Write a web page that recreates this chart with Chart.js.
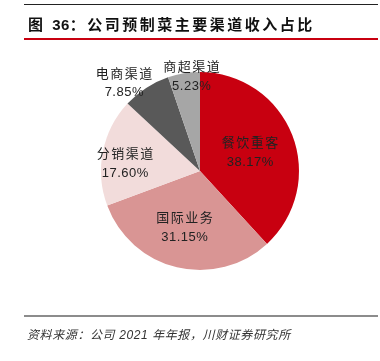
<!DOCTYPE html>
<html>
<head>
<meta charset="utf-8">
<script src="https://cdn.jsdelivr.net/npm/chart.js@4/dist/chart.umd.min.js"></script>
<style>
  html, body { margin: 0; padding: 0; background: #fff; }
  #wrap { position: relative; width: 380px; height: 361px; overflow: hidden; }
  #c { position: absolute; left: 0; top: 0; }
  .line { position: absolute; left: 24px; width: 354px; }
  #title { position: absolute; left: 28px; top: 13px; font: bold 15px "Liberation Sans", "Noto Sans CJK SC", sans-serif; letter-spacing: 2.5px; color: #111; white-space: nowrap; }
  #title .num { letter-spacing: 0.5px; }
  #foot { position: absolute; left: 27px; top: 325px; font: italic 12px "Liberation Sans", "Noto Sans CJK SC", sans-serif; letter-spacing: 0.6px; color: #333; white-space: nowrap; }
</style>
</head>
<body>
<div id="wrap">
  <canvas id="c" width="380" height="361"></canvas>
  <div class="line" style="top:4px;height:1px;background:#222;"></div>
  <div id="title">图 <span class="num">36</span>：公司预制菜主要渠道收入占比</div>
  <div class="line" style="top:38px;height:1.5px;background:#C80010;"></div>
  <div class="line" style="top:315px;height:2px;background:#8c8c8c;"></div>
  <div id="foot">资料来源：公司 2021 年年报，川财证券研究所</div>
</div>
<script>
const categories = ['餐饮重客', '国际业务', '分销渠道', '电商渠道', '商超渠道'];
const shares = [38.17, 31.15, 17.60, 7.85, 5.23];
const colors = ['#C80010', '#D99594', '#F2DCDB', '#595959', '#A6A6A6'];
// label placement: radius factor and angle shift (degrees) relative to slice middle
const labelRadius = [0.54, 0.587, 0.762, 1.175, 0.963];
const labelShift = [0.5, 2, -5.1, -7.8, 4.3];

const labelPlugin = {
  id: 'sliceLabels',
  afterDatasetsDraw(chart) {
    const ctx = chart.ctx;
    const meta = chart.getDatasetMeta(0);
    meta.data.forEach((arc, i) => {
      const p = arc.getProps(['x', 'y', 'startAngle', 'endAngle', 'outerRadius'], true);
      const mid = (p.startAngle + p.endAngle) / 2 + labelShift[i] * Math.PI / 180;
      const r = p.outerRadius * labelRadius[i];
      const cx = p.x + Math.cos(mid) * r;
      const cy = p.y + Math.sin(mid) * r;
      ctx.save();
      ctx.fillStyle = '#222';
      ctx.textAlign = 'center';
      ctx.textBaseline = 'middle';
      ctx.font = '13px "Noto Sans CJK SC", sans-serif';
      ctx.letterSpacing = '1.5px';
      ctx.fillText(categories[i], cx + 0.75, cy - 9.5);
      ctx.font = '13px "Liberation Sans", sans-serif';
      ctx.letterSpacing = '0.5px';
      ctx.fillText(shares[i].toFixed(2) + '%', cx + 0.25, cy + 10);
      ctx.restore();
    });
  }
};

new Chart(document.getElementById('c'), {
  type: 'pie',
  data: {
    labels: categories,
    datasets: [{ data: shares, backgroundColor: colors, borderWidth: 0, hoverOffset: 0 }]
  },
  options: {
    responsive: false,
    animation: false,
    layout: { padding: { left: 101, right: 81, top: 72, bottom: 91 } },
    plugins: { legend: { display: false }, tooltip: { enabled: false } }
  },
  plugins: [labelPlugin]
});
</script>
</body>
</html>
